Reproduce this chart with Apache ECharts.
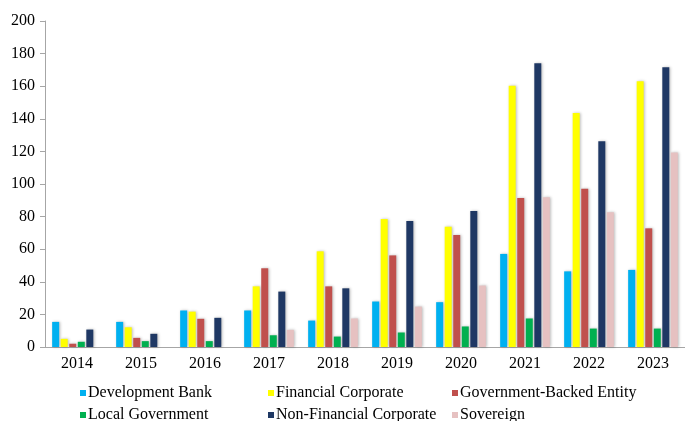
<!DOCTYPE html>
<html>
<head>
<meta charset="utf-8">
<script src="https://cdn.jsdelivr.net/npm/echarts@6/dist/echarts.min.js"></script>
<style>
  html, body { margin: 0; padding: 0; background: #fff; }
  #main { width: 685px; height: 421px; }
</style>
</head>
<body>
<div id="main"></div>
<script>
// 年份
var years = ['2014', '2015', '2016', '2017', '2018', '2019', '2020', '2021', '2022', '2023'];
var yTicks = [0, 20, 40, 60, 80, 100, 120, 140, 160, 180, 200];

var developmentBank  = [15.4, 15.4, 22.4, 22.4, 16.2, 27.9, 27.5, 57.1, 46.4, 47.3];
var financialCorp    = [5.0, 12.1, 21.7, 37.2, 58.7, 78.5, 73.8, 160.2, 143.5, 163.1];
var govBacked        = [2.0, 5.6, 17.3, 48.3, 37.2, 56.2, 68.7, 91.4, 97.1, 72.8];
var localGov         = [3.2, 3.6, 3.6, 7.2, 6.4, 8.9, 12.6, 17.5, 11.3, 11.3];
var nonFinancialCorp = [10.7, 8.1, 17.9, 34.0, 36.0, 77.3, 83.4, 174.1, 126.3, 171.6];
var sovereign        = [null, null, null, 10.5, 17.5, 24.8, 37.7, 91.8, 82.6, 119.3];

(function(){

var chart = echarts.init(document.getElementById('main'));

var serif = '"Liberation Serif", "DejaVu Serif", serif';

function bar(name, color, data) {
    return {
        name: name,
        type: 'bar',
        barWidth: 7,
        barGap: '22%',
        itemStyle: {
            color: color,
            shadowColor: 'rgba(0,0,0,0.28)',
            shadowBlur: 3,
            shadowOffsetX: 1
        },
        data: data
    };
}

// 一个图例一项，按位置摆成两行三列
function legend(left, top, name) {
    return {
        left: left,
        top: top,
        padding: 0,
        itemWidth: 6,
        itemHeight: 6,
        icon: 'rect',
        textStyle: {
            fontFamily: serif,
            fontSize: 16,
            lineHeight: 16,
            color: '#000',
            padding: [0, 0, 0, -3]
        },
        data: [name]
    };
}

var option = {
    animation: false,
    grid: {
        left: 45,
        right: -5,
        top: 21,
        bottom: 74
    },
    legend: [
        legend(80, 385, 'Development Bank'),
        legend(268, 385, 'Financial Corporate'),
        legend(452, 385, 'Government-Backed Entity'),
        legend(80, 407, 'Local Government'),
        legend(268, 407, 'Non-Financial Corporate'),
        legend(452, 407, 'Sovereign')
    ],
    xAxis: {
        type: 'category',
        data: years,
        axisLine: { lineStyle: { color: '#a6a6a6' } },
        axisTick: { length: 5, lineStyle: { color: '#a6a6a6' } },
        axisLabel: {
            fontFamily: serif,
            fontSize: 16,
            color: '#000',
            margin: 9
        }
    },
    yAxis: {
        type: 'value',
        min: yTicks[0],
        max: yTicks[yTicks.length - 1],
        interval: 20,
        splitLine: { show: false },
        axisLine: { show: true, lineStyle: { color: '#a6a6a6' } },
        axisTick: { show: true, length: 5, lineStyle: { color: '#a6a6a6' } },
        axisLabel: {
            fontFamily: serif,
            fontSize: 16,
            color: '#000',
            margin: 10
        }
    },
    series: [
        bar('Development Bank', '#00B0F0', developmentBank),
        bar('Financial Corporate', '#FFFF00', financialCorp),
        bar('Government-Backed Entity', '#C0504D', govBacked),
        bar('Local Government', '#00B050', localGov),
        bar('Non-Financial Corporate', '#1F3864', nonFinancialCorp),
        bar('Sovereign', '#E6C1C1', sovereign)
    ]
};

chart.setOption(option);
})();
</script>
</body>
</html>
